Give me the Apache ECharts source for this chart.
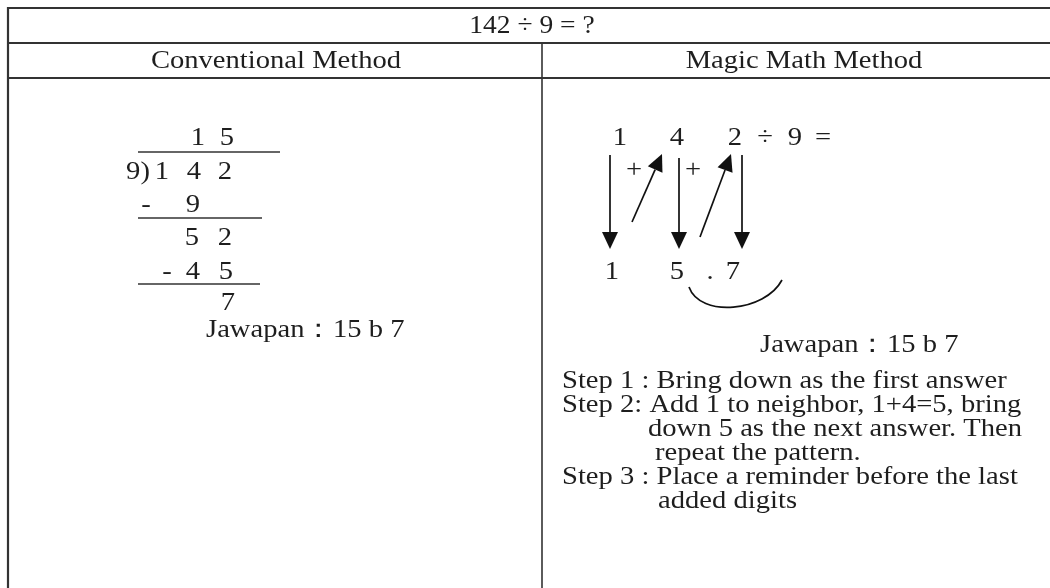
<!DOCTYPE html>
<html>
<head>
<meta charset="utf-8">
<script src="https://cdn.jsdelivr.net/npm/echarts@6/dist/echarts.min.js"></script>
<style>html,body{margin:0;padding:0;background:#fff}#c{width:1050px;height:588px}</style>
</head>
<body>
<div id="c"></div>
<script>
// ---- content ----
const titleText = '142 ÷ 9 = ?';
const columnHeaders = ['Conventional Method', 'Magic Math Method'];
const quotientDigits = ['1', '5'];
const dividendDigits = ['1', '4', '2'];
const divisor = '9';
const firstSubtract = ['-', '9'];
const firstRemainder = ['5', '2'];
const secondSubtract = ['-', '4', '5'];
const finalRemainder = ['7'];
const answerText = 'Jawapan：15 b 7';
const magicTopRow = ['1', '4', '2', '÷', '9', '='];
const magicBottomRow = ['1', '5', '.', '7'];
const magicPlus = ['+', '+'];
const stepLines = [
  'Step 1 : Bring down as the first answer',
  'Step 2: Add 1 to neighbor, 1+4=5, bring',
  'down 5 as the next answer. Then',
  'repeat the pattern.',
  'Step 3 : Place a reminder before the last',
  'added digits'
];

// ---- layout / styling ----
const FONT = "'Liberation Serif','Times New Roman','DejaVu Serif',serif";
const INK = '#1e1e1e';
const LINE = '#333';
const SX = 1.1;
const els = [];
function txt(s, x, y, size, align) {
  els.push({type:'text', x:x, y:y, scaleX:SX, silent:true, style:{text:s, font: (size||26)+'px '+FONT,
    fill:INK, textAlign: align||'center', textVerticalAlign:'middle'}});
}
function seg(x1,y1,x2,y2,w,c){
  els.push({type:'line', silent:true, shape:{x1:x1,y1:y1,x2:x2,y2:y2}, style:{stroke:c||LINE, lineWidth:w||1.5}});
}
function arrow(x1,y1,x2,y2){
  const dx=x2-x1, dy=y2-y1, L=Math.hypot(dx,dy), ux=dx/L, uy=dy/L;
  const hl=17, hw=8;
  const bx=x2-ux*hl, by=y2-uy*hl;
  seg(x1,y1,bx,by,1.7,'#111');
  els.push({type:'polygon', silent:true, shape:{points:[[x2,y2],[bx-uy*hw,by+ux*hw],[bx+uy*hw,by-ux*hw]]}, style:{fill:'#111'}});
}

// table
seg(8,8,1050,8,2);
seg(8,43,1050,43,2);
seg(8,78,1050,78,2);
seg(8,7,8,588,2.2);
seg(542,43,542,588,1.6);
txt(titleText, 532, 26, 25);
txt(columnHeaders[0], 276, 61, 26);
txt(columnHeaders[1], 804, 61, 26);

// conventional long division
const DS = 26;
txt(quotientDigits[0], 198, 138, DS); txt(quotientDigits[1], 227, 138, DS);
seg(138,152,280,152,1.5);
txt(divisor+')', 138, 172, DS);
txt(dividendDigits[0], 162, 172, DS); txt(dividendDigits[1], 194, 172, DS); txt(dividendDigits[2], 225, 172, DS);
txt(firstSubtract[0], 146, 205, DS); txt(firstSubtract[1], 193, 205, DS);
seg(138,218,262,218,1.5);
txt(firstRemainder[0], 192, 238, DS); txt(firstRemainder[1], 225, 238, DS);
txt(secondSubtract[0], 167, 272, DS); txt(secondSubtract[1], 193, 272, DS); txt(secondSubtract[2], 226, 272, DS);
seg(138,284,260,284,1.5);
txt(finalRemainder[0], 228, 303, DS);
txt(answerText, 206, 330, 26, 'left');

// magic math method
const topX = [620, 677, 735, 765, 795, 823];
magicTopRow.forEach((s,i)=>txt(s, topX[i], 138, DS));
const botX = [612, 677, 710, 733];
magicBottomRow.forEach((s,i)=>txt(s, botX[i], 272, DS));
txt(magicPlus[0], 634, 170, DS); txt(magicPlus[1], 693, 170, DS);
arrow(610,155,610,249);
arrow(632,222,662,154);
arrow(679,158,679,249);
arrow(700,237,731,154);
arrow(742,155,742,249);
els.push({type:'bezierCurve', silent:true, shape:{x1:689,y1:287,cpx1:700,cpy1:318,cpx2:765,cpy2:312,x2:782,y2:280}, style:{stroke:'#111', lineWidth:1.7, fill:null}});
txt(answerText, 760, 345, 26, 'left');
const stepX = [562, 562, 648, 655, 562, 658];
stepLines.forEach((s,i)=>txt(s, stepX[i], 381 + i*24, 26, 'left'));

const chart = echarts.init(document.getElementById('c'), null, {renderer:'canvas'});
chart.setOption({backgroundColor:'#fff', animation:false, graphic:{elements:els}});
</script>
</body>
</html>
